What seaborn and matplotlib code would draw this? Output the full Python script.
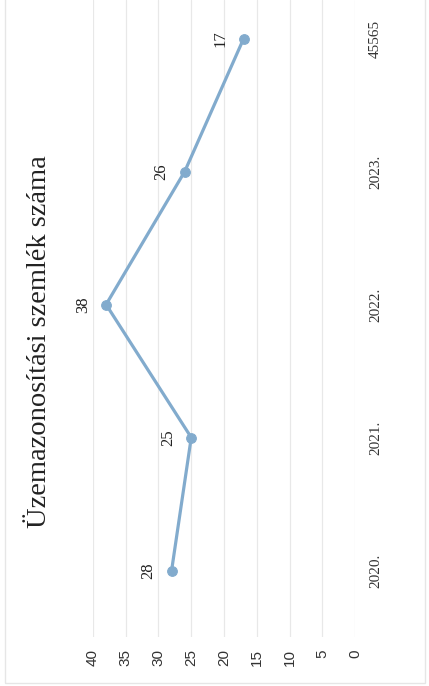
import numpy as np
import seaborn as sns
import matplotlib.pyplot as plt
from matplotlib.patches import Rectangle

# Adatok (a szkennelt ábra 90 fokkal elforgatva)
kategoriak = ["2020.", "2021.", "2022.", "2023.", "45565"]
ertekek = [28, 25, 38, 26, 17]
tengely_jelek = [0, 5, 10, 15, 20, 25, 30, 35, 40]
cim = "Üzemazonosítási szemlék száma"

pozicio = np.arange(len(kategoriak))

sns.set_theme(style="white")
plt.rcParams['font.family'] = ['Liberation Serif', 'DejaVu Serif']

fig = plt.figure(figsize=(4.29, 6.86), dpi=100)
ax = fig.add_axes([93 / 429, 49 / 686, 262 / 429, 637 / 686])

szin = "#82abcd"
sns.lineplot(x=ertekek, y=pozicio, orient="y", sort=False, ax=ax,
             color=szin, linewidth=2.3, marker="o", markersize=7,
             markeredgecolor=szin)

ax.set_xlim(40, 0)
ax.set_ylim(-0.5, 4.29)
ax.set_xticks(tengely_jelek)
ax.set_xticklabels([str(t) for t in tengely_jelek], rotation=90,
                   family=['Liberation Sans', 'DejaVu Sans'], fontsize=11,
                   color="#333333")
ax.set_yticks(pozicio)
ax.set_yticklabels(kategoriak, rotation=90, va="center", fontsize=11,
                   color="#333333")
ax.yaxis.tick_right()
ax.tick_params(axis="x", length=0, pad=9)
ax.tick_params(axis="y", length=0, pad=10)
ax.grid(axis="x", color="#e8e8e8", linewidth=0.9)
ax.grid(axis="y", visible=False)
for s in ax.spines.values():
    s.set_visible(False)

# Adatcímkék
for x, y in zip(ertekek, pozicio):
    ax.annotate(str(x), (x, y), xytext=(-23, 0), textcoords="offset pixels",
                rotation=90, ha="center", va="center", fontsize=12,
                color="#222222")

fig.text(40 / 429, 1 - 342 / 686, cim, rotation=90, ha="center",
         va="center", fontsize=20.5, color="#222222")

# Halvány diagramkeret
fig.patches.append(Rectangle((5 / 429, 3 / 686), 420 / 429, 0.999,
                             transform=fig.transFigure, fill=False,
                             edgecolor="#e6e6e6", linewidth=1))

fig.savefig("out.png", dpi=100)
